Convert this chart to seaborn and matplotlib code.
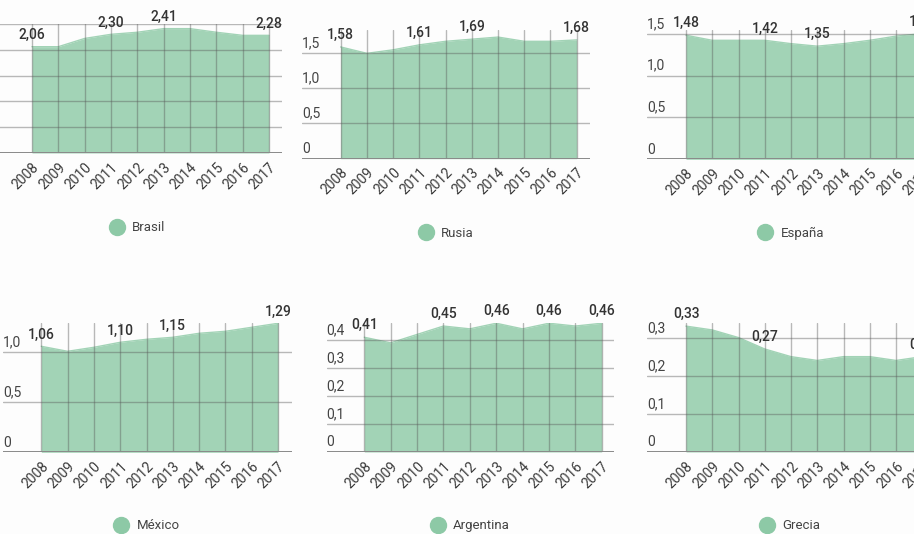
import matplotlib
matplotlib.use("Agg")
import matplotlib.pyplot as plt
from matplotlib.lines import Line2D
import seaborn as sns
import pandas as pd

# ---- data -------------------------------------------------------------
years = [2008, 2009, 2010, 2011, 2012, 2013, 2014, 2015, 2016, 2017]

brasil = [2.06, 2.06, 2.22, 2.30, 2.34, 2.41, 2.41, 2.34, 2.28, 2.28]
rusia = [1.58, 1.49, 1.54, 1.61, 1.66, 1.69, 1.72, 1.66, 1.66, 1.68]
espana = [1.48, 1.42, 1.42, 1.42, 1.38, 1.35, 1.38, 1.42, 1.47, 1.50]
mexico = [1.06, 1.01, 1.05, 1.10, 1.13, 1.15, 1.19, 1.21, 1.25, 1.29]
argentina = [0.41, 0.39, 0.42, 0.45, 0.44, 0.46, 0.44, 0.46, 0.45, 0.46]
grecia = [0.33, 0.32, 0.30, 0.27, 0.25, 0.24, 0.25, 0.25, 0.24, 0.25]

countries = ["Brasil", "Rusia", "España", "México", "Argentina", "Grecia"]
series = [brasil, rusia, espana, mexico, argentina, grecia]

# years whose value is printed above the area
labelled_years = [
    [2008, 2011, 2013, 2017],
    [2008, 2011, 2013, 2017],
    [2008, 2011, 2013, 2017],
    [2008, 2011, 2013, 2017],
    [2008, 2011, 2013, 2015, 2017],
    [2008, 2011, 2017],
]

yticks = [
    [0, 0.5, 1.0, 1.5, 2.0, 2.5],
    [0, 0.5, 1.0, 1.5],
    [0, 0.5, 1.0, 1.5],
    [0, 0.5, 1.0],
    [0, 0.1, 0.2, 0.3, 0.4],
    [0, 0.1, 0.2, 0.3],
]
ytop = [2.5, 1.82, 1.543, 1.296, 0.462, 0.339]

# ---- layout (pixels) ----------------------------------------------------
W, H = 914, 534
# left edge, right edge, top, baseline, x of first year, x of last year
frames = [
    (-22, 282, 24, 153, 32.0, 269.0),
    (302, 590, 30, 158.7, 340.7, 576.7),
    (647, 935, 30, 159.3, 686.0, 922.3),
    (3, 291.7, 322.7, 452.3, 41.3, 278.0),
    (326.7, 614, 322.7, 452, 364.3, 601.7),
    (647.3, 935, 322.7, 452, 686.0, 922.3),
]
# legend centres
legend_xy = [(137.5, 228), (446, 233), (791, 233), (147, 525.7), (470, 525.7), (790, 525.7)]

FILL = "#a2d3b6"
DOT = "#8dc9a6"
BG = "#fdfdfd"
FONT = ["Roboto", "DejaVu Sans"]

sns.set_theme(style="white")
plt.rcParams["font.family"] = FONT

fig = plt.figure(figsize=(W / 100, H / 100), dpi=100, facecolor=BG)


def fmt_value(v):
    return f"{v:.2f}".replace(".", ",")


def fmt_tick(v):
    return "0" if v == 0 else f"{v:.1f}".replace(".", ",")


for name, vals, lab, yt, top, fr, lxy in zip(
    countries, series, labelled_years, yticks, ytop, frames, legend_xy
):
    left, right, t, base, x0, x1 = fr
    ax = fig.add_axes([left / W, 1 - base / H, (right - left) / W, (base - t) / H])
    ax.set_facecolor("none")
    dx = (x1 - x0) / (len(years) - 1)
    ax.set_xlim(years[0] - (x0 - left) / dx, years[-1] + (right - x1) / dx)
    ax.set_ylim(0, top)

    df = pd.DataFrame({"year": years, "value": vals})
    ax.fill_between(df["year"], 0, df["value"], color=FILL, lw=0, zorder=1)
    sns.lineplot(data=df, x="year", y="value", ax=ax, color=FILL, lw=1.0, zorder=1.5)

    ax.set_xticks(years)
    ax.set_xticklabels([str(y) for y in years], rotation=45, ha="right",
                       rotation_mode="anchor", fontsize=10, color="#3a3a3a")
    ax.set_yticks(yt)
    ax.set_yticklabels([])
    ax.tick_params(axis="both", length=0, pad=5)
    ax.tick_params(axis="y", pad=0)
    ax.set_axisbelow(False)
    ax.grid(True, color="#5a5a5a", alpha=0.42, lw=1.0)
    ax.axhline(0, color="#8a8a8a", lw=1.4, zorder=3)
    for s in ax.spines.values():
        s.set_visible(False)
    ax.set_xlabel("")
    ax.set_ylabel("")

    # value axis labels sit just above their gridline (only when the panel's
    # left edge is on the canvas)
    if left >= 0:
        for v in yt:
            ax.annotate(fmt_tick(v), xy=(0, v), xycoords=("axes fraction", "data"),
                        xytext=(0, 2), textcoords="offset points",
                        ha="left", va="bottom", fontsize=10, color="#444",
                        annotation_clip=False)

    # printed values
    for y, v in zip(years, vals):
        if y in lab:
            ax.annotate(fmt_value(v), xy=(y, v), xytext=(0, 3.5), textcoords="offset points",
                        ha="center", va="bottom", fontsize=10, color="#333",
                        fontweight="medium", annotation_clip=False, zorder=5)

    handle = Line2D([], [], marker="o", linestyle="none", markersize=11.5,
                    markerfacecolor=DOT, markeredgecolor=DOT)
    ax.legend([handle], [name], loc="center",
              bbox_to_anchor=(lxy[0] / W, 1 - lxy[1] / H),
              bbox_transform=fig.transFigure, frameon=False,
              handlelength=1.1, handletextpad=0.6, fontsize=9.5, labelcolor="#444")

fig.savefig("out.png", dpi=100, facecolor=BG)
